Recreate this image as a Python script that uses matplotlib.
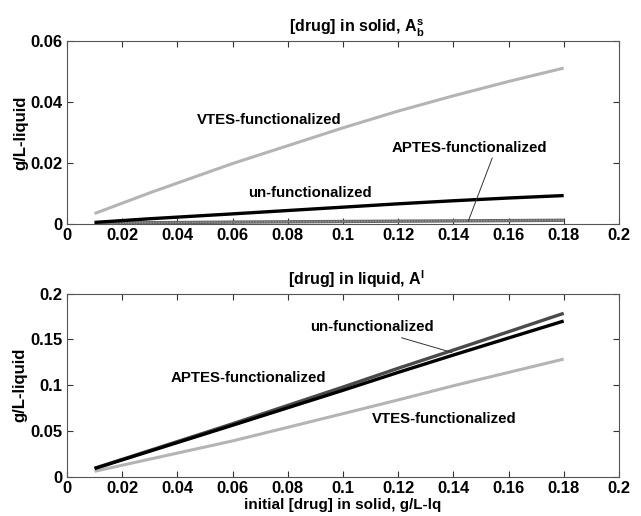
import matplotlib
matplotlib.use("Agg")
import matplotlib.pyplot as plt
import numpy as np

FAM = ['Liberation Sans', 'DejaVu Sans']
plt.rcParams['font.family'] = FAM
plt.rcParams['mathtext.fontset'] = 'custom'
plt.rcParams['mathtext.rm'] = 'Liberation Sans:bold'
plt.rcParams['mathtext.it'] = 'Liberation Sans:bold'
plt.rcParams['mathtext.bf'] = 'Liberation Sans:bold'

# ---- data ----
x_top = [0.01, 0.03, 0.06, 0.10, 0.12, 0.14, 0.16, 0.18]
top_vtes = [0.0034, 0.0102, 0.0198, 0.0315, 0.0370, 0.0420, 0.0467, 0.0511]
top_unf = [0.0005, 0.0017, 0.0033, 0.0055, 0.0066, 0.0076, 0.0085, 0.0093]
top_apt = [0.0002, 0.0004, 0.0006, 0.0008, 0.0009, 0.0010, 0.0011, 0.0012]

x_bot = [0.01, 0.06, 0.10, 0.12, 0.14, 0.16, 0.18]
bot_upper = [0.0095, 0.0580, 0.0980, 0.1185, 0.1383, 0.1583, 0.1784]
bot_black = [0.0092, 0.0564, 0.0945, 0.1140, 0.1329, 0.1515, 0.1700]
bot_vtes = [0.0062, 0.0393, 0.0690, 0.0840, 0.0994, 0.1140, 0.1285]

xticks = [0, 0.02, 0.04, 0.06, 0.08, 0.1, 0.12, 0.14, 0.16, 0.18, 0.2]
xticklabels = ['0', '0.02', '0.04', '0.06', '0.08', '0.1', '0.12', '0.14', '0.16', '0.18', '0.2']
yticks_top = [0, 0.02, 0.04, 0.06]
yticklabels_top = ['0', '0.02', '0.04', '0.06']
yticks_bot = [0, 0.05, 0.1, 0.15, 0.2]
yticklabels_bot = ['0', '0.05', '0.1', '0.15', '0.2']

fig = plt.figure(figsize=(6.41, 5.16), dpi=100)
ax1 = fig.add_axes([0.1045, 0.566, 0.861, 0.3547])
ax2 = fig.add_axes([0.1045, 0.0756, 0.861, 0.3556])

LFS = 12
AFS = 10.8
for ax in (ax1, ax2):
    ax.set_xlim(0, 0.2)
    ax.set_xticks(xticks)
    ax.set_xticklabels(xticklabels, fontweight='bold', fontsize=LFS)
    ax.tick_params(direction='in', top=True, right=True, length=4, width=0.8, colors='#333333', labelcolor='black', pad=3)
    for s in ax.spines.values():
        s.set_color('#555555')
        s.set_linewidth(0.8)
    ax.set_ylabel('g/L-liquid', fontweight='bold', fontsize=LFS, labelpad=2)

ax1.set_ylim(0, 0.06)
ax1.set_yticks(yticks_top)
ax1.set_yticklabels(yticklabels_top, fontweight='bold', fontsize=LFS)
ax2.set_ylim(0, 0.2)
ax2.set_yticks(yticks_bot)
ax2.set_yticklabels(yticklabels_bot, fontweight='bold', fontsize=LFS)

# top lines
ax1.plot(x_top, top_vtes, color='#b4b4b4', lw=2.2, solid_capstyle='butt')
ax1.plot(x_top, top_apt, color='#666666', lw=2.4, solid_capstyle='butt')
ax1.plot(x_top, top_apt, color='#999999', lw=1.0, ls=(0, (1, 1)))
ax1.plot(x_top, top_unf, color='black', lw=2.4, solid_capstyle='butt')

ax1.text(0.0732, 0.0342, 'VTES-functionalized', ha='center', va='center', fontweight='bold', fontsize=AFS)
ax1.text(0.088, 0.0102, 'un-functionalized', ha='center', va='center', fontweight='bold', fontsize=AFS)
ax1.text(0.1457, 0.0249, 'APTES-functionalized', ha='center', va='center', fontweight='bold', fontsize=AFS)
ax1.plot([0.1541, 0.1454], [0.0216, 0.00085], color='#333333', lw=0.7)
ax1.set_title('[drug] in solid, $\\mathbf{A_b^s}$', fontsize=11.5, fontweight='bold', pad=6, x=0.525)

# bottom lines
ax2.plot(x_bot, bot_vtes, color='#b4b4b4', lw=2.2, solid_capstyle='butt')
ax2.plot(x_bot, bot_upper, color='#4a4a4a', lw=2.4, solid_capstyle='butt')
ax2.plot(x_bot, bot_black, color='black', lw=2.4, solid_capstyle='butt')

ax2.text(0.1104, 0.1631, 'un-functionalized', ha='center', va='center', fontweight='bold', fontsize=AFS)
ax2.text(0.0656, 0.1074, 'APTES-functionalized', ha='center', va='center', fontweight='bold', fontsize=AFS)
ax2.text(0.1368, 0.063, 'VTES-functionalized', ha='center', va='center', fontweight='bold', fontsize=AFS)
ax2.plot([0.1213, 0.1394], [0.1517, 0.1358], color='#333333', lw=0.7)
ax2.set_title('[drug] in liquid, $\\mathbf{A^l}$', fontsize=11.5, fontweight='bold', pad=6, x=0.525)
ax2.set_xlabel('initial [drug] in solid, g/L-lq', fontweight='bold', fontsize=11, labelpad=1)

fig.savefig('out.png', dpi=100)
